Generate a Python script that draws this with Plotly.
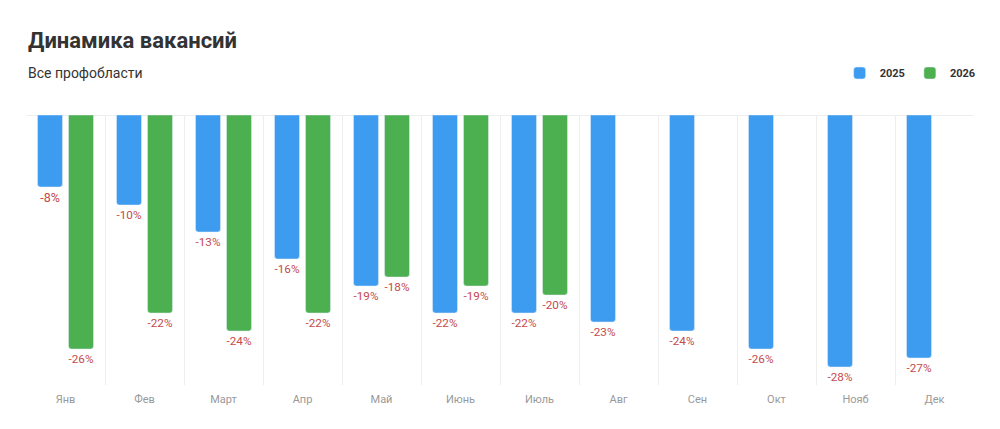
import plotly.graph_objects as go

months = ["Янв", "Фев", "Март", "Апр", "Май", "Июнь", "Июль", "Авг", "Сен", "Окт", "Нояб", "Дек"]
values_2025 = [-8, -10, -13, -16, -19, -22, -22, -23, -24, -26, -28, -27]
values_2026 = [-26, -22, -24, -22, -18, -19, -20, None, None, None, None, None]

BLUE = "#3e9cf0"
GREEN = "#4caf50"
LABEL_RED = "#c44a4c"

def labels(vals):
    return [f"{v}%" if v is not None else "" for v in vals]

fig = go.Figure()
fig.add_trace(go.Bar(
    name="2025", x=months, y=values_2025, marker_color=BLUE,
    text=labels(values_2025), textposition="outside",
    textfont=dict(color=LABEL_RED, size=12.5, family="Roboto"),
    cliponaxis=False,
))
fig.add_trace(go.Bar(
    name="2026", x=months, y=values_2026, marker_color=GREEN,
    text=labels(values_2026), textposition="outside",
    textfont=dict(color=LABEL_RED, size=12.5, family="Roboto"),
    cliponaxis=False,
))

# page body has an 8px margin, so the figure is sized to fit the window
W, H = 992, 421
plot_top, plot_bottom = 107, 377
plot_h = plot_bottom - plot_top

fig.update_layout(
    width=W, height=H,
    margin=dict(l=18, r=26, t=plot_top, b=H - plot_bottom),
    paper_bgcolor="white", plot_bgcolor="white",
    barmode="group", bargap=0.215, bargroupgap=0.194,
    barcornerradius=3,
    font=dict(family="Roboto", color="#333"),
    showlegend=True,
    legend=dict(
        orientation="h", x=1.007, xanchor="right", y=(plot_bottom - 65) / plot_h, yanchor="middle",
        font=dict(size=11, family="Roboto", color="#333", weight="bold"),
        itemwidth=30, bgcolor="rgba(0,0,0,0)",
    ),
    xaxis=dict(
        type="category", tickson="boundaries", showgrid=True,
        gridcolor="#eeeeee", gridwidth=1, showline=False, ticks="",
        tickfont=dict(size=11, color="#999999", family="Roboto"),
        ticklabelstandoff=6,
    ),
    yaxis=dict(
        range=[-30, 0], showgrid=False, zeroline=True, zerolinecolor="#eeeeee",
        zerolinewidth=1, showticklabels=False, ticks="",
    ),
    annotations=[
        dict(text="<b>Динамика вакансий</b>", xref="paper", yref="paper",
             x=0, y=(plot_bottom - 32) / plot_h, xanchor="left", yanchor="middle",
             showarrow=False, font=dict(size=22, color="#333333", family="Roboto")),
        dict(text="Все профобласти", xref="paper", yref="paper",
             x=0, y=(plot_bottom - 65) / plot_h, xanchor="left", yanchor="middle",
             showarrow=False, font=dict(size=14, color="#333333", family="Roboto")),
    ],
)

fig.write_html("out.html")
